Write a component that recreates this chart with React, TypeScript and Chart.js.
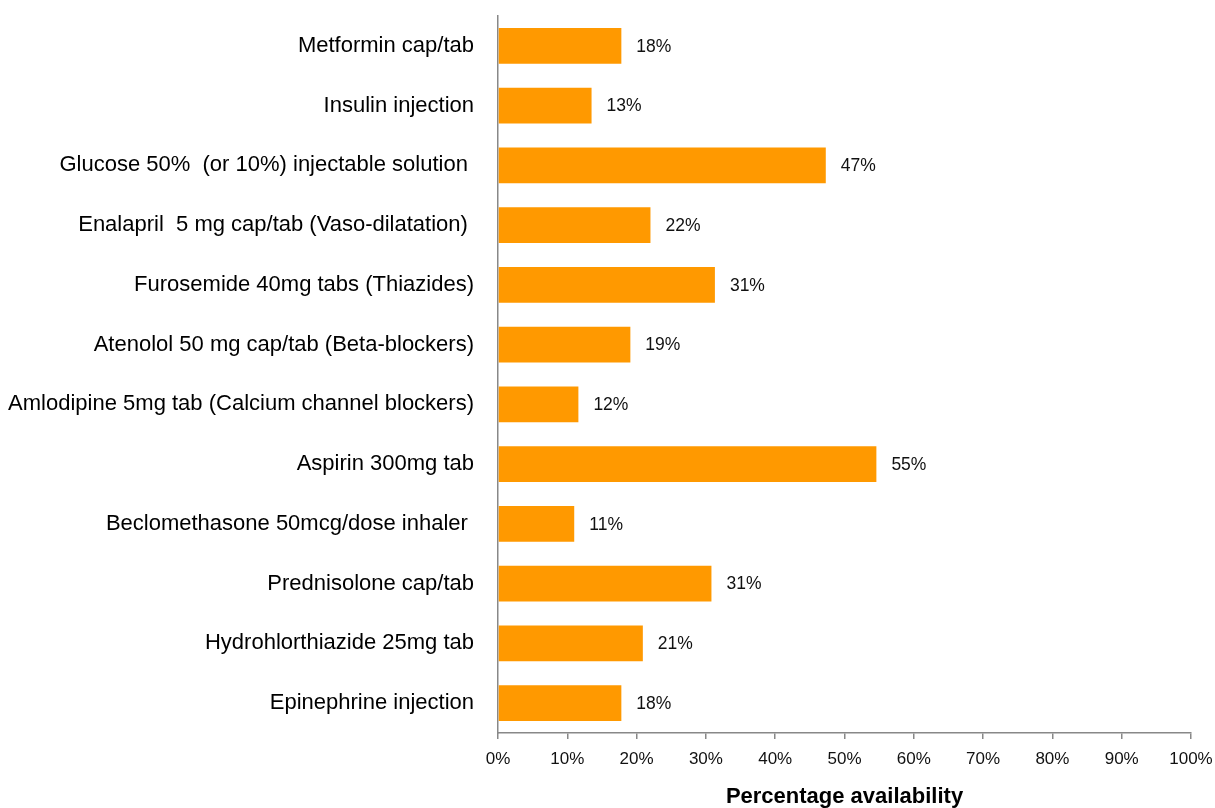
import React, { useEffect, useRef } from "react";
import { Chart, registerables } from "chart.js";

Chart.register(...registerables);

const categories: string[] = [
  "Metformin cap/tab",
  "Insulin injection",
  "Glucose 50%  (or 10%) injectable solution ",
  "Enalapril  5 mg cap/tab (Vaso-dilatation) ",
  "Furosemide 40mg tabs (Thiazides)",
  "Atenolol 50 mg cap/tab (Beta-blockers)",
  "Amlodipine 5mg tab (Calcium channel blockers)",
  "Aspirin 300mg tab",
  "Beclomethasone 50mcg/dose inhaler ",
  "Prednisolone cap/tab",
  "Hydrohlorthiazide 25mg tab",
  "Epinephrine injection",
];

const availability: number[] = [17.8, 13.5, 47.3, 22.0, 31.3, 19.1, 11.6, 54.6, 11.0, 30.8, 20.9, 17.8];

const valueLabels: string[] = ["18%", "13%", "47%", "22%", "31%", "19%", "12%", "55%", "11%", "31%", "21%", "18%"];

const xTickValues: number[] = [0, 10, 20, 30, 40, 50, 60, 70, 80, 90, 100];

const axisTitle = "Percentage availability";

const FONT = "'Liberation Sans', Arial, sans-serif";

const valueLabelPlugin = {
  id: "valueLabels",
  afterDatasetsDraw(chart: any) {
    const ctx = chart.ctx;
    const meta = chart.getDatasetMeta(0);
    ctx.save();
    ctx.font = `17.5px ${FONT}`;
    ctx.fillStyle = "#111111";
    ctx.textAlign = "left";
    ctx.textBaseline = "middle";
    meta.data.forEach((el: any, i: number) => {
      ctx.fillText(valueLabels[i], el.x + 15, el.y + 1);
    });
    ctx.restore();
  },
};

export default function App() {
  const canvasRef = useRef<HTMLCanvasElement | null>(null);

  useEffect(() => {
    if (!canvasRef.current) return;
    const chart = new Chart(canvasRef.current, {
      type: "bar",
      data: {
        labels: categories,
        datasets: [
          {
            data: availability,
            backgroundColor: "#FF9900",
            borderWidth: 0,
            categoryPercentage: 0.6,
            barPercentage: 1,
          },
        ],
      },
      options: {
        indexAxis: "y",
        animation: false,
        responsive: true,
        maintainAspectRatio: false,
        layout: { padding: { top: 16, right: 24, left: 0, bottom: 0 } },
        plugins: {
          legend: { display: false },
          tooltip: { enabled: false },
        },
        scales: {
          x: {
            type: "linear",
            min: 0,
            max: 100,
            afterFit: (scale: any) => {
              scale.height = 75;
              scale.paddingLeft = 0;
              scale.paddingRight = 0;
            },
            afterBuildTicks: (scale: any) => {
              scale.ticks = xTickValues.map((v) => ({ value: v }));
            },
            ticks: {
              callback: (v: any) => `${v}%`,
              color: "#111111",
              font: { family: FONT, size: 17 },
              padding: 10,
              maxRotation: 0,
            },
            grid: {
              display: true,
              drawOnChartArea: false,
              drawTicks: true,
              tickLength: 6,
              color: "#888888",
              lineWidth: 1.5,
            },
            border: { display: true, color: "#888888", width: 1.5 },
            title: {
              display: true,
              text: axisTitle,
              color: "#000000",
              font: { family: FONT, size: 22, weight: "bold", lineHeight: 1.05 },
              padding: { top: 0, bottom: 0 },
            },
          },
          y: {
            afterFit: (scale: any) => {
              scale.width = 498;
              scale.paddingTop = 0;
              scale.paddingBottom = 0;
            },
            ticks: {
              color: "#000000",
              font: { family: FONT, size: 22 },
              padding: 24,
              autoSkip: false,
            },
            grid: { display: false, drawTicks: false },
            border: { display: true, color: "#888888", width: 1.5 },
          },
        },
      },
      plugins: [valueLabelPlugin],
    });
    return () => chart.destroy();
  }, []);

  return (
    <div style={{ position: "fixed", left: 0, top: 0, width: 1215, height: 808, background: "#ffffff" }}>
      <canvas ref={canvasRef} />
    </div>
  );
}
